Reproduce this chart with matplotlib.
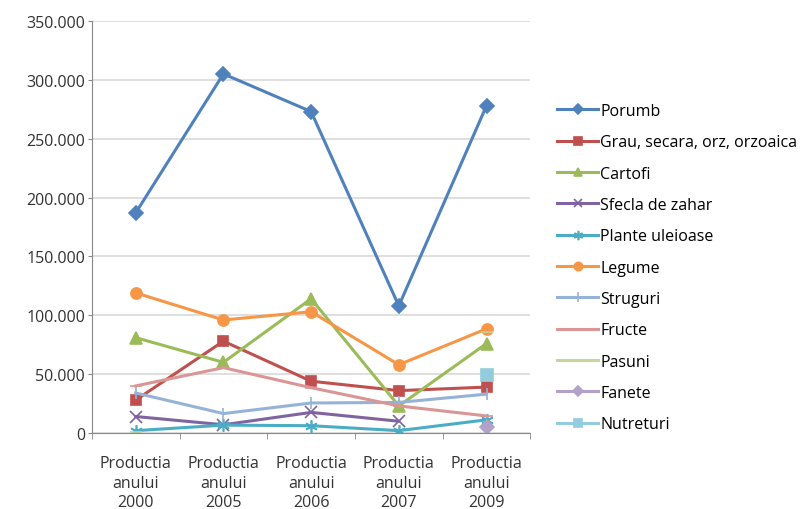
import matplotlib.pyplot as plt
import matplotlib.ticker as mticker
import numpy as np

nan = np.nan
categories = ['Productia\nanului\n2000', 'Productia\nanului\n2005', 'Productia\nanului\n2006',
              'Productia\nanului\n2007', 'Productia\nanului\n2009']

porumb = [187000, 305000, 273000, 108000, 278000]
grau = [28000, 78000, 44000, 36000, 39000]
cartofi = [81000, 60000, 114000, 23000, 76000]
sfecla = [14000, 7000, 17500, 10000, nan]
plante = [2000, 6700, 6200, 2000, 11200]
legume = [119000, 96000, 103000, 58000, 88500]
struguri = [34000, 16500, 25500, 26000, 33000]
fructe = [40000, 55500, 38500, 23000, 14500]
pasuni = [800, nan, nan, nan, 86000]
fanete = [nan, nan, nan, nan, 4800]
nutreturi = [nan, nan, nan, nan, 49000]

series = [
    ('Porumb', porumb, '#4F81BD', 'D', 7),
    ('Grau, secara, orz, orzoaica', grau, '#C0504D', 's', 7),
    ('Cartofi', cartofi, '#9BBB59', '^', 8),
    ('Sfecla de zahar', sfecla, '#8064A2', 'x', 8),
    ('Plante uleioase', plante, '#4BACC6', (6, 2, 0), 9),
    ('Legume', legume, '#F79646', 'o', 8),
    ('Struguri', struguri, '#95B3D7', '|', 9),
    ('Fructe', fructe, '#D99694', '_', 8),
    ('Pasuni', pasuni, '#C3D69B', '_', 8),
    ('Fanete', fanete, '#B3A2C7', 'D', 7),
    ('Nutreturi', nutreturi, '#93CDDD', 's', 8),
]

plt.rcParams['font.family'] = ['Open Sans', 'DejaVu Sans']

fig = plt.figure(figsize=(8.06, 5.10), dpi=100)
ax = fig.add_axes([0.114, 0.149, 0.544, 0.808])

x = np.arange(len(categories))
for name, vals, col, mk, ms in series:
    ax.plot(x, vals, color=col, lw=2.2, marker=mk, markersize=ms,
            markeredgecolor=col, markerfacecolor=col, markeredgewidth=1.2, label=name)

ax.set_xlim(-0.5, len(categories) - 0.5)
ax.set_ylim(0, 350000)
ax.yaxis.set_major_locator(mticker.MultipleLocator(50000))
ax.yaxis.set_major_formatter(mticker.FuncFormatter(lambda v, p: '0' if v == 0 else '{:,.0f}'.format(v).replace(',', '.')))
ax.set_xticks(x)
ax.set_xticklabels(categories, fontsize=11.5, color='#333333', linespacing=1.3)
ax.set_xticks(np.arange(len(categories) + 1) - 0.5, minor=True)
ax.tick_params(axis='x', which='major', length=0, pad=16)
ax.tick_params(axis='x', which='minor', length=4, color='#888888')
ax.tick_params(axis='y', length=3, color='#888888', labelsize=11.5, labelcolor='#333333', pad=2)
ax.grid(axis='y', color='#D9D9D9', lw=1.2)
ax.set_axisbelow(True)
for s in ['top', 'right']:
    ax.spines[s].set_visible(False)
for s in ['left', 'bottom']:
    ax.spines[s].set_color('#888888')

fig.legend(loc='upper left', bbox_to_anchor=(0.691, 0.796), frameon=False, fontsize=11.5,
           handlelength=2.6, handletextpad=0.1, labelspacing=0.96, borderaxespad=0,
           borderpad=0, markerscale=0.75)

plt.savefig('out.png', dpi=100)
